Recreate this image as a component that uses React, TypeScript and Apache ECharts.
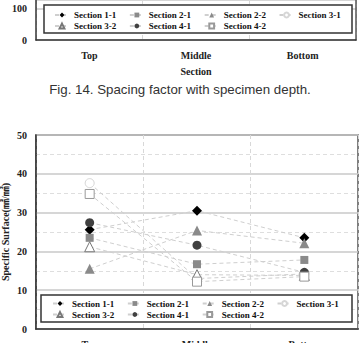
import React, { useEffect, useRef } from "react";
import * as echarts from "echarts";

// Depth positions along the specimen
const categories = ["Top", "Middle", "Bottom"];

// Specific surface (㎟/㎣) per section, by depth
const section11 = [25.6, 30.5, 23.5];
const section21 = [23.5, 16.7, 17.8];
const section22 = [15.5, 25.4, 22.1];
const section31 = [37.6, 13.0, 14.2];
const section32 = [21.2, 14.0, 13.8];
const section41 = [27.4, 21.6, 14.6];
const section42 = [34.8, 12.2, 13.5];

const legendRow1 = ["Section 1-1", "Section 2-1", "Section 2-2", "Section 3-1"];
const legendRow2 = ["Section 3-2", "Section 4-1", "Section 4-2"];

const caption = "Fig. 14. Spacing factor with specimen depth.";

const SERIF = "'Liberation Serif', 'Times New Roman', 'Noto Sans CJK KR', serif";

type Spec = {
  name: string;
  data: number[];
  symbol: string;
  size: number;
  fill: string;
  stroke?: string;
};

const specs: Spec[] = [
  { name: "Section 1-1", data: section11, symbol: "diamond", size: 10, fill: "#000000" },
  { name: "Section 2-1", data: section21, symbol: "rect", size: 8, fill: "#8a8a8a" },
  { name: "Section 2-2", data: section22, symbol: "triangle", size: 10, fill: "#8a8a8a" },
  { name: "Section 3-1", data: section31, symbol: "circle", size: 9, fill: "#ffffff", stroke: "#d6d6d6" },
  { name: "Section 3-2", data: section32, symbol: "triangle", size: 10, fill: "#ffffff", stroke: "#777777" },
  { name: "Section 4-1", data: section41, symbol: "circle", size: 9, fill: "#404040" },
  { name: "Section 4-2", data: section42, symbol: "rect", size: 9, fill: "#ffffff", stroke: "#999999" },
];

const axisLabelStyle = {
  fontFamily: SERIF,
  fontWeight: "bold" as const,
  fontSize: 10,
  color: "#222",
};

function makeLegend(names: string[], left: number, top: number) {
  return {
    data: names,
    orient: "horizontal",
    left,
    top,
    padding: 0,
    itemWidth: 14,
    itemHeight: 6,
    itemGap: 12.6,
    selectedMode: false,
    textStyle: {
      fontFamily: SERIF,
      fontWeight: "bold",
      fontSize: 9,
      color: "#111",
      padding: [0, 0, 0, 0],
    },
  };
}

export default function App() {
  const ref = useRef<HTMLDivElement>(null);

  useEffect(() => {
    if (!ref.current) return;
    const chart = echarts.init(ref.current, undefined, { renderer: "svg" });

    const series = specs.map((s) => ({
      name: s.name,
      type: "line",
      xAxisIndex: 1,
      yAxisIndex: 1,
      data: s.data,
      symbol: s.symbol,
      symbolSize: s.size,
      showSymbol: true,
      lineStyle: { color: "#cfcfcf", width: 1, type: [4, 3] },
      itemStyle: {
        color: s.fill,
        borderColor: s.stroke ?? s.fill,
        borderWidth: s.stroke ? 1 : 0,
        opacity: 1,
      },
      emphasis: { disabled: true },
      z: 2,
    }));

    chart.setOption({
      animation: false,
      backgroundColor: "#ffffff",
      grid: [
        {
          // upper chart, only its lower part is shown
          left: 36,
          width: 320,
          top: 0,
          height: 40,
          show: false,
          outerBoundsMode: "none",
        },
        {
          left: 36,
          width: 322,
          top: 135,
          height: 194,
          show: true,
          borderColor: "#555",
          borderWidth: 1.5,
          backgroundColor: "transparent",
          outerBoundsMode: "none",
        },
      ],
      xAxis: [
        {
          gridIndex: 0,
          type: "category",
          data: categories,
          boundaryGap: true,
          axisLine: { lineStyle: { color: "#333", width: 1.5 } },
          axisTick: { show: false },
          axisLabel: { ...axisLabelStyle, margin: 10 },
          splitLine: { show: true, interval: 0, lineStyle: { color: "#d8d8d8", type: [4, 3] } },
          name: "Section",
          nameLocation: "middle",
          nameGap: 26,
          nameMoveOverlap: false,
          nameTextStyle: axisLabelStyle,
        },
        {
          gridIndex: 1,
          type: "category",
          data: categories,
          boundaryGap: true,
          axisLine: { lineStyle: { color: "#333", width: 1.5 } },
          axisTick: { show: false },
          axisLabel: { ...axisLabelStyle, margin: 10 },
          splitLine: { show: true, interval: 0, lineStyle: { color: "#d8d8d8", type: [4, 3] } },
        },
      ],
      yAxis: [
        {
          gridIndex: 0,
          type: "value",
          min: 0,
          max: 129,
          interval: 100,
          axisLine: { show: true, lineStyle: { color: "#333", width: 1.5 } },
          axisTick: { show: false },
          axisLabel: { ...axisLabelStyle, margin: 9, showMaxLabel: false },
          splitLine: { show: true, lineStyle: { color: "#c8c8c8", width: 1.5 } },
        },
        {
          gridIndex: 1,
          type: "value",
          min: 0,
          max: 50,
          interval: 10,
          axisLine: { show: true, lineStyle: { color: "#333", width: 1.5 } },
          axisTick: { show: false },
          axisLabel: { ...axisLabelStyle, margin: 9 },
          splitLine: { show: true, lineStyle: { color: "#c8c8c8", width: 1.5 } },
          minorTick: { show: false, splitNumber: 2 },
          minorSplitLine: { show: true, lineStyle: { color: "#dedede", type: [4, 3] } },
          name: "Specific Surface(㎟/㎣)",
          nameLocation: "middle",
          nameRotate: 90,
          nameGap: 26,
          nameMoveOverlap: false,
          nameTextStyle: { ...axisLabelStyle, fontSize: 10 },
        },
        {
          // right frame edge of the upper chart
          gridIndex: 0,
          type: "value",
          position: "right",
          min: 0,
          max: 129,
          interval: 100,
          axisLine: { show: true, onZero: false, lineStyle: { color: "#555", width: 1.5 } },
          axisTick: { show: false },
          axisLabel: { show: false },
          splitLine: { show: false },
        },
      ],
      legend: [
        makeLegend(legendRow1, 54, 10.5),
        makeLegend(legendRow2, 54, 21.5),
        makeLegend(legendRow1, 52, 299),
        makeLegend(legendRow2, 52, 310),
      ],
      graphic: [
        {
          type: "rect",
          z: 3,
          shape: { x: 44, y: 5, width: 308, height: 28 },
          style: { fill: "#ffffff", stroke: "#333", lineWidth: 1.5 },
          silent: true,
        },
        {
          type: "rect",
          z: 3,
          shape: { x: 41, y: 295, width: 311, height: 27 },
          style: { fill: "#ffffff", stroke: "#333", lineWidth: 1.5 },
          silent: true,
        },
        {
          type: "text",
          z: 3,
          x: 180,
          y: 89,
          style: {
            text: caption,
            fontFamily: "'Liberation Sans', Arial, sans-serif",
            fontSize: 13.3,
            fill: "#333",
            align: "center",
            verticalAlign: "middle",
          },
          silent: true,
        },
      ],
      series,
    });

    return () => chart.dispose();
  }, []);

  return (
    <div
      ref={ref}
      style={{ position: "absolute", left: 0, top: 0, width: 359, height: 343, background: "#fff" }}
    />
  );
}
